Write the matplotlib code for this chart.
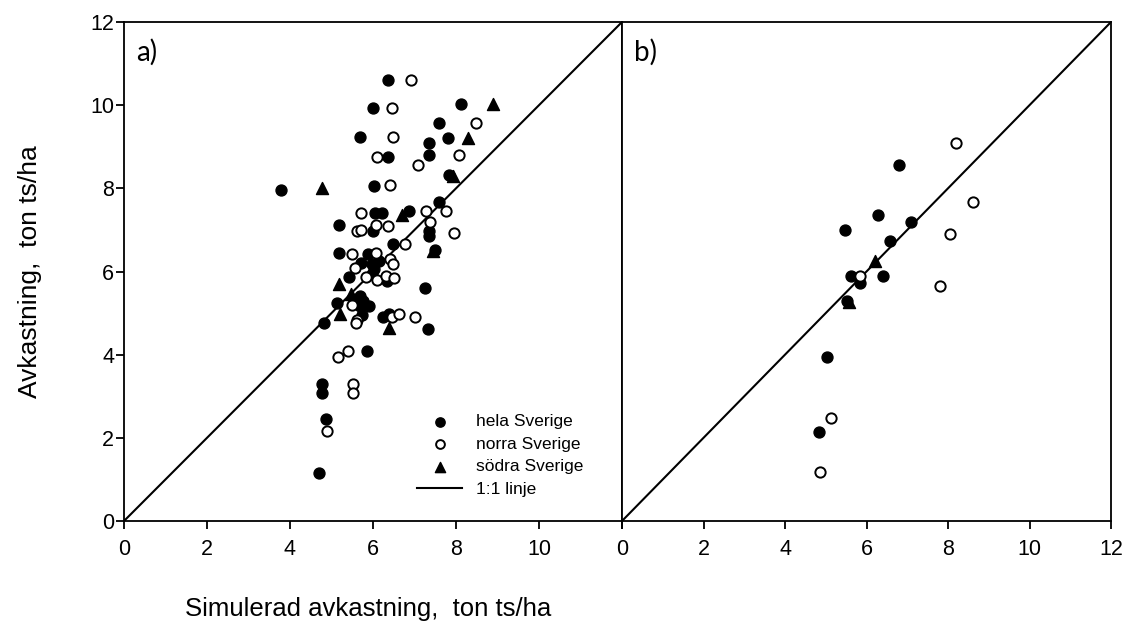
import matplotlib
matplotlib.use("Agg")
import matplotlib.pyplot as plt

plt.rcParams['font.family'] = ['Liberation Sans', 'DejaVu Sans']

# panel a) - all data
hela_a_x = [6.36, 6.01, 8.12, 7.60, 5.69, 7.80, 7.35, 7.35, 6.35, 7.84, 3.78, 6.03,
            6.05, 6.21, 6.87, 7.59, 5.17, 6.01, 7.35, 7.35, 6.47, 7.50, 5.17, 5.89,
            6.15, 5.71, 5.97, 6.02, 5.97, 6.33, 5.42, 7.25, 5.69, 5.77, 5.91, 5.69,
            5.14, 5.74, 6.25, 6.39, 7.33, 4.83, 5.86, 4.78, 4.78, 4.87, 4.71]
hela_a_y = [10.60, 9.94, 10.02, 9.56, 9.24, 9.20, 9.08, 8.80, 8.76, 8.33, 7.95, 8.06,
            7.41, 7.41, 7.45, 7.67, 7.11, 6.97, 6.97, 6.85, 6.67, 6.52, 6.45, 6.43,
            6.25, 6.21, 6.17, 6.05, 5.95, 5.77, 5.87, 5.61, 5.40, 5.28, 5.18, 5.18,
            5.24, 4.96, 4.91, 4.98, 4.61, 4.75, 4.10, 3.29, 3.08, 2.46, 1.16]

norra_a_x = [6.91, 6.45, 8.47, 6.48, 8.08, 6.09, 7.09, 6.41, 5.70, 7.28, 7.76, 5.61,
             5.71, 6.07, 6.35, 7.37, 7.95, 6.78, 5.49, 6.07, 6.41, 6.49, 5.57, 5.82,
             6.09, 6.31, 6.51, 5.50, 5.61, 5.59, 6.45, 6.63, 7.00, 5.15, 5.39, 5.51,
             5.51, 4.90]
norra_a_y = [10.60, 9.94, 9.56, 9.24, 8.80, 8.76, 8.55, 8.07, 7.41, 7.45, 7.45, 6.97,
             7.00, 7.11, 7.09, 7.18, 6.93, 6.67, 6.43, 6.45, 6.31, 6.19, 6.08, 5.87,
             5.79, 5.90, 5.85, 5.19, 4.83, 4.75, 4.90, 4.98, 4.90, 3.95, 4.09, 3.29,
             3.08, 2.17]

sodra_a_x = [8.90, 8.28, 7.92, 4.78, 6.71, 7.45, 5.17, 5.47, 5.20, 6.38]
sodra_a_y = [10.04, 9.22, 8.30, 8.02, 7.37, 6.50, 5.70, 5.46, 4.97, 4.64]

# panel b)
hela_b_x = [6.80, 6.29, 7.08, 5.47, 6.58, 5.61, 5.84, 6.41, 5.51, 5.02, 4.83]
hela_b_y = [8.55, 7.36, 7.19, 7.01, 6.73, 5.90, 5.73, 5.89, 5.28, 3.94, 2.15]

norra_b_x = [8.20, 8.61, 8.05, 5.84, 7.80, 5.12, 4.86]
norra_b_y = [9.10, 7.68, 6.89, 5.89, 5.65, 2.47, 1.19]

sodra_b_x = [6.21, 5.58]
sodra_b_y = [6.25, 5.26]

x_ticks_a = [0, 2, 4, 6, 8, 10]
x_ticks_b = [0, 2, 4, 6, 8, 10, 12]
y_ticks = [0, 2, 4, 6, 8, 10, 12]


def draw_panel(ax, hx, hy, nx, ny, sx, sy):
    ax.plot([0, 12], [0, 12], color='black', lw=1.5, zorder=1, label='1:1 linje')
    ax.scatter(hx, hy, s=62, marker='o', color='black', zorder=3, label='hela Sverige')
    ax.scatter(nx, ny, s=55, marker='o', facecolor='white', edgecolor='black',
               linewidth=1.4, zorder=3, label='norra Sverige')
    ax.scatter(sx, sy, s=75, marker='^', color='black', zorder=4, label='södra Sverige')
    ax.set_xlim(0, 12)
    ax.set_ylim(0, 12)
    for sp in ax.spines.values():
        sp.set_linewidth(1.3)
    ax.tick_params(direction='out', length=6, width=1.3, labelsize=15.5)
    ax.tick_params(axis='x', pad=7)
    ax.tick_params(axis='y', pad=1)


fig = plt.figure(figsize=(11.35, 6.28), dpi=100)
ax_a = fig.add_axes([124 / 1135, 1 - 521 / 628, 498 / 1135, 499 / 628])
ax_b = fig.add_axes([622 / 1135, 1 - 521 / 628, 489 / 1135, 499 / 628])

draw_panel(ax_a, hela_a_x, hela_a_y, norra_a_x, norra_a_y, sodra_a_x, sodra_a_y)
draw_panel(ax_b, hela_b_x, hela_b_y, norra_b_x, norra_b_y, sodra_b_x, sodra_b_y)

ax_a.set_xticks(list(range(0, 13, 2)))
ax_a.set_xticklabels([str(t) for t in x_ticks_a] + [''])
ax_a.set_yticks(y_ticks)
ax_b.set_xticks(x_ticks_b)
ax_b.set_yticks([])

ax_a.text(0.3, 11.08, 'a)', fontsize=20, family=['Lato', 'DejaVu Sans'])
ax_b.text(0.3, 11.08, 'b)', fontsize=20, family=['Lato', 'DejaVu Sans'])

ax_a.set_ylabel('Avkastning,  ton ts/ha', fontsize=19)
ax_a.yaxis.set_label_coords(-0.165, 0.5)
ax_a.set_xlabel('Simulerad avkastning,  ton ts/ha', fontsize=18.5)
ax_a.xaxis.set_label_coords(0.49, -0.153)

handles, labels = ax_a.get_legend_handles_labels()
order = [1, 2, 3, 0]
ax_a.legend([handles[i] for i in order], [labels[i] for i in order],
            loc='lower left', bbox_to_anchor=(0.575, 0.035), frameon=False,
            fontsize=12.5, handlelength=2.6, handletextpad=0.8,
            labelspacing=0.42, markerscale=0.85, borderaxespad=0)

fig.savefig('out.png', dpi=100)
